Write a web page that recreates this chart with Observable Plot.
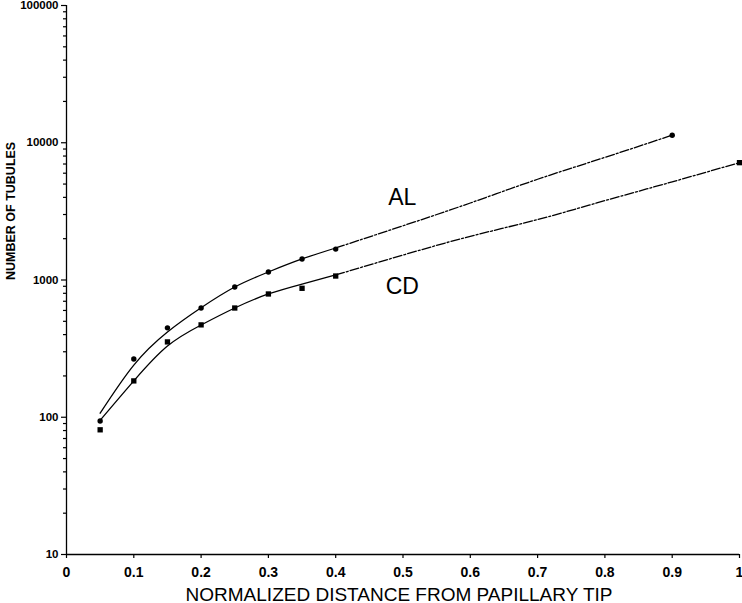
<!DOCTYPE html>
<html>
<head>
<meta charset="utf-8">
<script src="https://cdn.jsdelivr.net/npm/d3@7"></script>
<script src="https://cdn.jsdelivr.net/npm/@observablehq/plot@0.6"></script>
<style>
  html, body { margin: 0; padding: 0; background: #fff; }
  #chart svg { display: block; }
</style>
</head>
<body>
<div id="chart"></div>
<script>
// Measured points
const alX = [0.05, 0.1, 0.15, 0.2, 0.25, 0.3, 0.35, 0.4, 0.9];
const alY = [94, 266, 448, 625, 890, 1143, 1422, 1680, 11350];
const cdX = [0.05, 0.1, 0.15, 0.2, 0.25, 0.3, 0.35, 0.4, 1.0];
const cdY = [81, 184, 354, 471, 625, 791, 870, 1069, 7160];

// Fitted curves
const alFitX = [0.05, 0.1, 0.15, 0.2, 0.25, 0.3, 0.35, 0.4, 0.5, 0.6, 0.7, 0.8, 0.9];
const alFitY = [107, 240, 418, 628, 889, 1144, 1423, 1711, 2483, 3640, 5420, 7820, 11350];
const cdFitX = [0.05, 0.1, 0.15, 0.2, 0.25, 0.3, 0.35, 0.4, 0.5, 0.6, 0.7, 0.8, 0.9, 1.0];
const cdFitY = [95, 184, 330, 470, 625, 791, 935, 1088, 1520, 2080, 2756, 3785, 5190, 7160];
const solidEnd = 0.4;

// Axes
const xTicks = [0, 0.1, 0.2, 0.3, 0.4, 0.5, 0.6, 0.7, 0.8, 0.9, 1];
const xTickLabels = ["0", "0.1", "0.2", "0.3", "0.4", "0.5", "0.6", "0.7", "0.8", "0.9", "1"];
const yTicks = [10, 100, 1000, 10000, 100000];
const yTickLabels = ["10", "100", "1000", "10000", "100000"];
const minorMultipliers = [2, 3, 4, 5, 6, 7, 8, 9];
const seriesLabels = [{name: "AL", x: 0.499, y: 3960}, {name: "CD", x: 0.499, y: 889}];
const xTitle = "NORMALIZED DISTANCE FROM PAPILLARY TIP";
const yTitle = "NUMBER OF TUBULES";

const al = alX.map((x, i) => ({x, y: alY[i]}));
const cd = cdX.map((x, i) => ({x, y: cdY[i]}));
const alFit = alFitX.map((x, i) => ({x, y: alFitY[i]}));
const cdFit = cdFitX.map((x, i) => ({x, y: cdFitY[i]}));
const minorTicks = yTicks.slice(0, -1).flatMap(d => minorMultipliers.map(m => d * m));

const dash = "9,2,2,2";
const lw = 1.3;
const crv = "natural";

const chart = Plot.plot({
  width: 742,
  height: 603,
  marginLeft: 66,
  marginRight: 3,
  marginTop: 5,
  marginBottom: 49,
  style: {fontFamily: "Liberation Sans, Arial, sans-serif", color: "#000", background: "#fff"},
  x: {type: "linear", domain: [0, 1]},
  y: {type: "log", domain: [10, 100000]},
  marks: [
    Plot.axisX({ticks: xTicks, tickFormat: d => xTickLabels[xTicks.indexOf(d)], tickSize: 4, tickPadding: 9,
      fontSize: 14, fontWeight: "bold", strokeWidth: 1.2, label: null}),
    Plot.axisY({ticks: yTicks, tickFormat: d => yTickLabels[yTicks.indexOf(d)], tickSize: 5, tickPadding: 3,
      fontSize: 11.5, fontWeight: "bold", strokeWidth: 1.2, label: null}),
    Plot.axisY({ticks: minorTicks, tickFormat: () => "", tickSize: 3, strokeWidth: 1.2, label: null}),
    Plot.ruleX([0], {stroke: "#000", strokeWidth: lw}),
    Plot.ruleY([10], {stroke: "#000", strokeWidth: lw}),
    Plot.line(alFit.filter(d => d.x <= solidEnd), {x: "x", y: "y", curve: crv, stroke: "#000", strokeWidth: lw}),
    Plot.line(alFit.filter(d => d.x >= solidEnd), {x: "x", y: "y", curve: crv, stroke: "#000", strokeWidth: lw, strokeDasharray: dash}),
    Plot.line(cdFit.filter(d => d.x <= solidEnd), {x: "x", y: "y", curve: crv, stroke: "#000", strokeWidth: lw}),
    Plot.line(cdFit.filter(d => d.x >= solidEnd), {x: "x", y: "y", curve: crv, stroke: "#000", strokeWidth: lw, strokeDasharray: dash}),
    Plot.dot(al, {x: "x", y: "y", r: 2.7, fill: "#000", stroke: "none"}),
    Plot.dot(cd, {x: "x", y: "y", symbol: "square", r: 3, fill: "#000", stroke: "none"}),
    Plot.text(seriesLabels, {x: "x", y: "y", text: "name", fontSize: 23, fill: "#000"}),
    Plot.text([xTitle], {frameAnchor: "bottom", dx: -4, dy: 46, lineAnchor: "bottom", fontSize: 19, fill: "#000"}),
    Plot.text([yTitle], {frameAnchor: "left", dx: -56, rotate: -90, fontSize: 12.5, fontWeight: "bold", fill: "#000"})
  ]
});
document.getElementById("chart").appendChild(chart);
</script>
</body>
</html>
